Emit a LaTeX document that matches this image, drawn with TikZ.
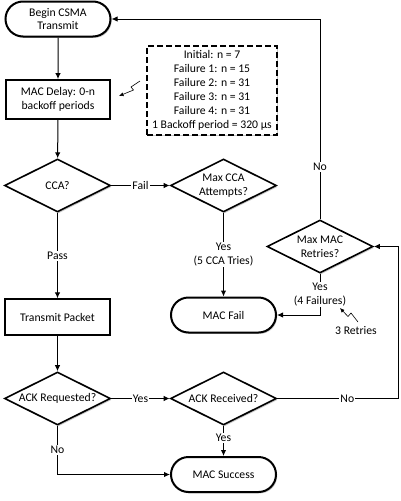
\documentclass[tikz,border=0pt]{standalone}
\usepackage{fontspec}
\setmainfont{Carlito}
\usetikzlibrary{shapes.geometric,shapes.misc,arrows.meta,shadows}
\tikzset{
  shad/.style={drop shadow={shadow xshift=1.2pt,shadow yshift=-1.4pt,opacity=0.22,fill=black}},
  term/.style={rounded rectangle,draw,line width=2pt,fill=white,shad,minimum width=105pt,minimum height=35pt,inner sep=0pt,align=center,font=\fontsize{11.7}{12.5}\selectfont},
  proc/.style={rectangle,draw,line width=1.8pt,fill=white,shad,minimum width=104pt,inner sep=0pt,align=center},
  decide/.style={diamond,draw,line width=1.6pt,fill=white,shad,aspect=2,minimum width=106pt,minimum height=53pt,inner xsep=-10pt,inner ysep=0pt,align=center},
  notebox/.style={rectangle,draw,line width=1.5pt,dash pattern=on 6pt off 3pt,fill=white,shad,minimum width=130pt,minimum height=89pt,inner sep=0pt,align=center},
  arr/.style={-{Latex[length=6pt,width=5.5pt]},line width=1pt},
  ln/.style={line width=1pt},
  lbl/.style={fill=white,inner sep=1.2pt,align=center},
  bolt/.style={-{Latex[length=4.5pt,width=4pt]},line width=0.6pt},
}
\begin{document}
\begin{tikzpicture}[x=1pt,y=-1pt,font=\fontsize{11.7}{14}\selectfont]
\fill[white] (0,0) rectangle (400,501);
\useasboundingbox (0,0) rectangle (400,501);

\node[term] (begin) at (58,19) {Begin CSMA\\Transmit};
\node[proc,minimum height=39pt] (delay) at (58,99.5) {MAC Delay: 0-n\\backoff periods};
\node[notebox] (note) at (212,90.5) {Initial: n = 7\\Failure 1: n = 15\\Failure 2: n = 31\\Failure 3: n = 31\\Failure 4: n = 31\\1 Backoff period = 320 µs};
\node[decide] (cca) at (57.5,185.5) {CCA?};
\node[decide] (maxcca) at (223.5,185.5) {Max CCA\\Attempts?};
\node[proc,line width=1.3pt,minimum width=105pt,minimum height=36pt] (tx) at (57.5,317) {Transmit Packet};
\node[term] (fail) at (223.5,315) {MAC Fail};
\node[decide] (maxmac) at (320,246.5) {Max MAC\\Retries?};
\node[decide] (ackreq) at (57.5,398.5) {ACK Requested?};
\node[decide] (ackrec) at (223.5,398.5) {ACK Received?};
\node[term] (succ) at (223.5,474.5) {MAC Success};
\node (retries) at (356,331) {3 Retries};

\coordinate (c1) at (398,398.5);
\coordinate (c2) at (398,246.5);
\coordinate (c3) at (320,19);

\draw[arr] (begin) -- (delay);
\draw[arr] (delay) -- (cca);
\draw[arr] (cca.east) -- node[lbl]{Fail} (maxcca.west);
\draw[arr] (cca.south) -- node[lbl]{Pass} (tx.north);
\draw[arr] (maxcca.south) -- node[lbl]{Yes\\(5 CCA Tries)} (fail.north);
\draw[arr] (tx.south) -- (ackreq.north);
\draw[arr] (ackreq.east) -- node[lbl]{Yes} (ackrec.west);
\draw[arr] (ackrec.south) -- node[lbl,pos=0.4]{Yes} (succ.north);
\draw[arr] (ackreq.south) |- node[lbl,pos=0.25]{No} (succ.west);
\draw[arr] (ackrec.east) -- node[lbl,pos=0.58]{No} (c1) -- (c2) -- (maxmac.east);
\draw[arr] (maxmac.south) |- node[lbl,pos=0.25]{Yes\\(4 Failures)} (fail.east);
\draw[arr] (maxmac.north) -- node[lbl,pos=0.26]{No} (c3) -- (begin.east);

% lightning arrows
\coordinate (b1) at (140,81);
\coordinate (b1e) at (119,96);
\draw[bolt] (b1) -- (131,87) -- (133.5,90) -- (b1e);
\coordinate (b2) at (358,322);
\coordinate (b2e) at (340,308);
\draw[bolt] (b2) -- (351,313) -- (348,316.5) -- (b2e);
\end{tikzpicture}
\end{document}
